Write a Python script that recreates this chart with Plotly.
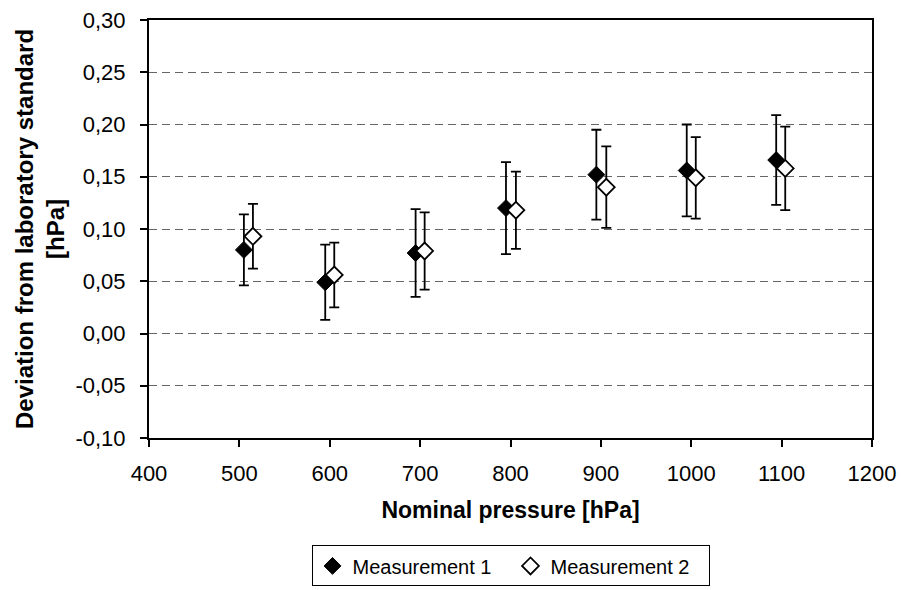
import plotly.graph_objects as go

x_m1 = [505, 595, 695, 795, 895, 995, 1094]
y_m1 = [0.080, 0.049, 0.077, 0.120, 0.152, 0.156, 0.166]
err_m1 = [0.034, 0.036, 0.042, 0.044, 0.043, 0.044, 0.043]

x_m2 = [515, 605, 705, 806, 906, 1005, 1104]
y_m2 = [0.093, 0.056, 0.079, 0.118, 0.140, 0.149, 0.158]
err_m2 = [0.031, 0.031, 0.037, 0.037, 0.039, 0.039, 0.040]

y_ticks = [-0.10, -0.05, 0.00, 0.05, 0.10, 0.15, 0.20, 0.25, 0.30]
y_ticktext = ["-0,10", "-0,05", "0,00", "0,05", "0,10", "0,15", "0,20", "0,25", "0,30"]
x_ticks = [400, 500, 600, 700, 800, 900, 1000, 1100, 1200]

font = "Liberation Sans, Arial, sans-serif"

fig = go.Figure()
fig.add_trace(go.Scatter(
    x=x_m1, y=y_m1, mode="markers", name="Measurement 1",
    marker=dict(symbol="diamond", size=13, color="black", line=dict(color="black", width=1)),
    error_y=dict(type="data", array=err_m1, visible=True, color="black", thickness=1.8, width=5),
))
fig.add_trace(go.Scatter(
    x=x_m2, y=y_m2, mode="markers", name="Measurement 2",
    marker=dict(symbol="diamond", size=13, color="white", line=dict(color="black", width=1.8)),
    error_y=dict(type="data", array=err_m2, visible=True, color="black", thickness=1.8, width=5),
))

fig.update_layout(
    width=901, height=590,
    margin=dict(l=149, r=29, t=20, b=152, autoexpand=False),
    paper_bgcolor="white", plot_bgcolor="white",
    font=dict(family=font, size=22, color="black"),
    showlegend=True,
    legend=dict(orientation="h", x=0.5, xanchor="center", y=-0.306, yanchor="middle",
                bordercolor="black", borderwidth=1, font=dict(size=20),
                itemwidth=30, tracegroupgap=0, entrywidth=153, entrywidthmode="pixels"),
)
fig.update_xaxes(
    range=[400, 1200], tickvals=x_ticks, ticks="outside", ticklen=7, tickcolor="black", tickwidth=1.5,
    showline=True, linecolor="black", linewidth=2, mirror=True, showgrid=False, zeroline=False,
    title=dict(text="<b>Nominal pressure [hPa]</b>", font=dict(size=23), standoff=16),
    tickfont=dict(size=22), ticklabelstandoff=8, automargin=False,
)
fig.update_yaxes(
    range=[-0.10, 0.30], tickvals=y_ticks, ticktext=y_ticktext, ticks="outside", ticklen=7,
    tickcolor="black", tickwidth=1.5,
    showline=True, linecolor="black", linewidth=2, mirror=True,
    showgrid=True, gridcolor="#666666", griddash="8px,5px", gridwidth=1.2, zeroline=False,
    title=dict(text="<b>Deviation from laboratory standard<br>[hPa]</b>", font=dict(size=24), standoff=4),
    tickfont=dict(size=22), ticklabelstandoff=10, automargin=False,
)

fig.write_html("out.html", config={"displayModeBar": False},
               post_script="document.body.style.margin='0';")
